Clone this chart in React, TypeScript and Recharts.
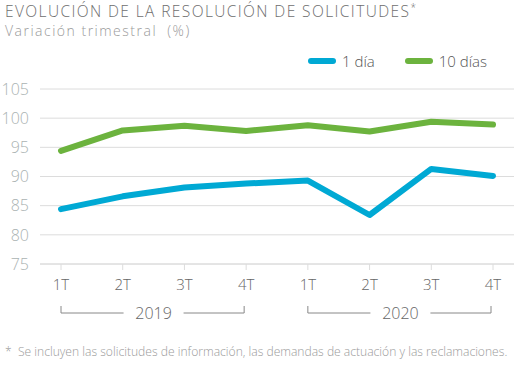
import { LineChart, Line, XAxis, YAxis, CartesianGrid } from 'recharts'

const quarters = ['1T', '2T', '3T', '4T', '1T', '2T', '3T', '4T']
const years = ['2019', '2019', '2019', '2019', '2020', '2020', '2020', '2020']
const oneDay = [84.4, 86.6, 88.1, 88.8, 89.3, 83.4, 91.3, 90.1]
const tenDays = [94.4, 97.9, 98.7, 97.8, 98.8, 97.7, 99.4, 98.9]
const yTicks = [75, 80, 85, 90, 95, 100, 105]

const series = [
  { key: 'oneDay', name: '1 día', color: '#00a9d4' },
  { key: 'tenDays', name: '10 días', color: '#6cb33e' },
]

const data = quarters.map((q, i) => ({
  id: `${years[i]}-${q}`,
  quarter: q,
  year: years[i],
  oneDay: oneDay[i],
  tenDays: tenDays[i],
}))

// layout
const W = 526
const H = 366
const MARGIN = { top: 89, right: 12, bottom: 42, left: 0 }
const Y_AXIS_W = 40
const X_PAD = 21
const FONT = '"Open Sans", Lato, sans-serif'

const plotW = W - MARGIN.left - MARGIN.right - Y_AXIS_W
const step = (plotW - 2 * X_PAD) / (quarters.length - 1)

function QuarterTick(props: any) {
  const { x, y, index } = props
  const d = data[index]
  const first = index % 4 === 0
  const by = y + 34
  const mid = x + 1.5 * step
  const end = x + 3 * step - 2
  const start = x
  return (
    <g>
      <text x={x} y={y} dy="0.71em" textAnchor="middle" fill="#666" fontSize={15} fontFamily={FONT} fontWeight={300}>
        {d.quarter}
      </text>
      {first && (
        <g stroke="#888" strokeWidth={1} fill="none">
          <polyline points={`${start},${by - 7} ${start},${by} ${mid - 30},${by}`} />
          <polyline points={`${mid + 30},${by} ${end},${by} ${end},${by - 7}`} />
          <text x={mid} y={by} dy="0.35em" textAnchor="middle" fill="#666" stroke="none" fontSize={16} fontFamily={FONT} fontWeight={300}>
            {d.year}
          </text>
        </g>
      )}
    </g>
  )
}

export default function App() {
  return (
    <div style={{ position: 'absolute', left: 0, top: 0, width: W, height: H, fontFamily: FONT, background: '#fff' }}>
      <div style={{ position: 'absolute', left: 5, top: 0, fontSize: 15.5, letterSpacing: 1.4, color: '#6e6e6e', fontWeight: 300, whiteSpace: 'nowrap' }}>
        EVOLUCIÓN DE LA RESOLUCIÓN DE SOLICITUDES<sup style={{ fontSize: 10 }}>*</sup>
      </div>
      <div style={{ position: 'absolute', left: 5, top: 21, fontSize: 14, letterSpacing: 1.5, color: '#9a9a9a', fontWeight: 300, whiteSpace: 'pre' }}>
        {'Variación trimestral  (%)'}
      </div>
      <div style={{ position: 'absolute', top: 51, left: 308, display: 'flex', alignItems: 'center', fontSize: 15, color: '#555', fontWeight: 300 }}>
        {series.map((s, i) => (
          <div key={s.key} style={{ display: 'flex', alignItems: 'center', marginRight: i === 0 ? 30 : 0 }}>
            <span style={{ display: 'inline-block', width: 28, height: 6, borderRadius: 3, background: s.color, marginRight: 6 }} />
            <span>{s.name}</span>
          </div>
        ))}
      </div>
      <LineChart width={W} height={H} data={data} margin={MARGIN}>
        <CartesianGrid horizontal vertical={false} stroke="#dcdcdc" strokeWidth={1} />
        <XAxis
          dataKey="id"
          interval={0}
          padding={{ left: X_PAD, right: X_PAD }}
          axisLine={{ stroke: '#dcdcdc' }}
          tickLine={{ stroke: '#dcdcdc' }}
          tickSize={6}
          tickMargin={9}
          height={60}
          tick={<QuarterTick />}
        />
        <YAxis
          width={Y_AXIS_W}
          domain={[75, 105]}
          ticks={yTicks}
          axisLine={false}
          tickLine={false}
          tickMargin={5}
          tick={{ fill: '#aab2b2', fontSize: 16, fontFamily: FONT, fontWeight: 300 }}
        />
        {series.map(s => (
          <Line
            key={s.key}
            type="linear"
            dataKey={s.key}
            name={s.name}
            stroke={s.color}
            strokeWidth={6}
            strokeLinecap="round"
            strokeLinejoin="round"
            dot={false}
            isAnimationActive={false}
          />
        ))}
      </LineChart>
      <div style={{ position: 'absolute', left: 5, top: 343, fontSize: 12.1, color: '#9a9a9a', fontWeight: 300, whiteSpace: 'pre' }}>
        {'*  Se incluyen las solicitudes de información, las demandas de actuación y las reclamaciones.'}
      </div>
    </div>
  )
}
